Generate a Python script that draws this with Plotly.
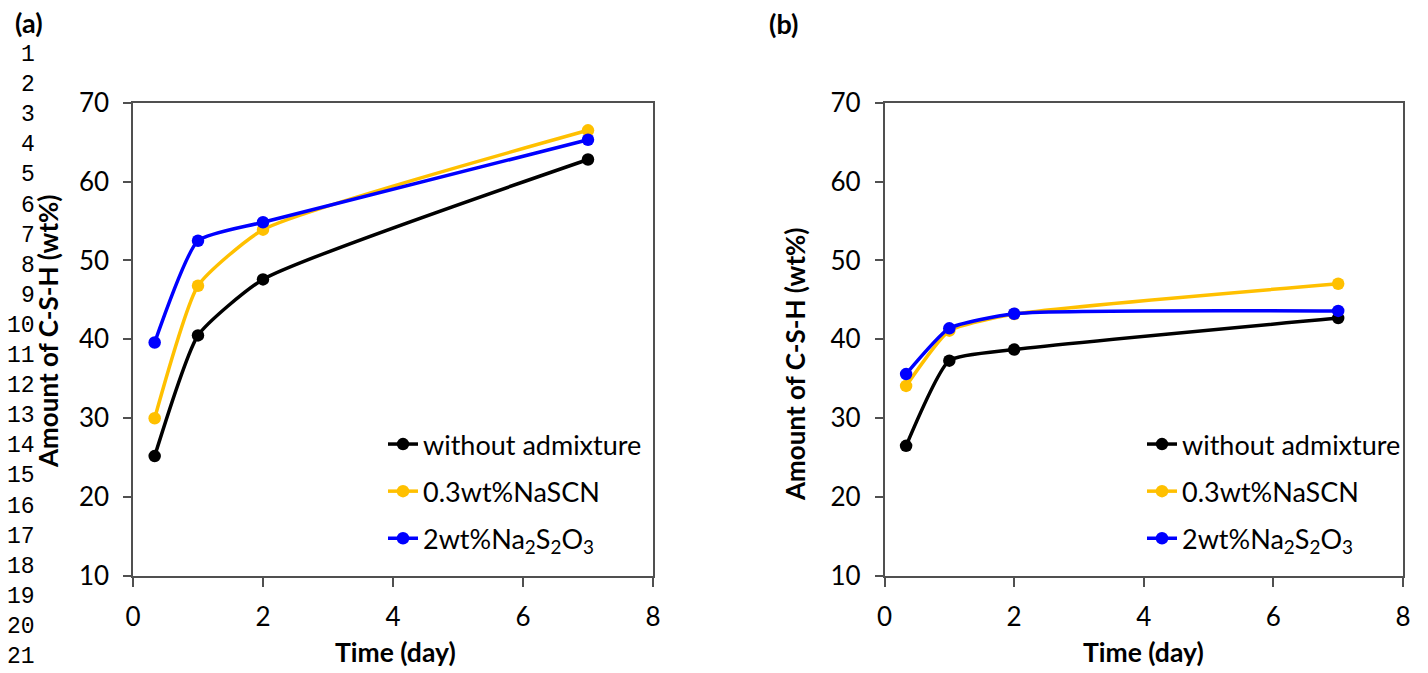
import plotly.graph_objects as go

W, H = 1428, 673

days = [1/3, 1, 2, 7]

series_names = ["without admixture", "0.3wt%NaSCN", "2wt%Na<sub>2</sub>S<sub>2</sub>O<sub>3</sub>"]
series_colors = ["#000000", "#FFC000", "#0000FF"]

a_without = [25.2, 40.5, 47.6, 62.8]
a_nascn = [30.0, 46.8, 53.9, 66.5]
a_na2s2o3 = [39.6, 52.5, 54.85, 65.3]

b_without = [26.5, 37.3, 38.7, 42.7]
b_nascn = [34.1, 41.1, 43.2, 47.05]
b_na2s2o3 = [35.6, 41.4, 43.25, 43.6]

x_ticks = [0, 2, 4, 6, 8]
y_ticks = [10, 20, 30, 40, 50, 60, 70]
line_numbers = [str(i) for i in range(1, 22)]

FONT = "Lato"
AXIS_COLOR = "#505050"

fig = go.Figure()

panels = [
    ("x", "y", "legend", [a_without, a_nascn, a_na2s2o3]),
    ("x2", "y2", "legend2", [b_without, b_nascn, b_na2s2o3]),
]
for xa, ya, lg, data in panels:
    for i, (name, col, vals) in enumerate(zip(series_names, series_colors, data)):
        fig.add_trace(go.Scatter(
            x=days, y=vals, name=name, xaxis=xa, yaxis=ya, legend=lg,
            legendgroup=f"{lg}_{i}",
            mode="lines+markers",
            line=dict(color=col, width=3.5, shape="spline", smoothing=0.5),
            marker=dict(color=col, size=12.5),
        ))

def px2x(p):
    return p / W

def px2y(p):
    return 1 - p / H

ax_common = dict(
    showline=True, linecolor=AXIS_COLOR, linewidth=1.5, mirror=True,
    ticks="outside", tickcolor=AXIS_COLOR, tickwidth=1.5,
    showgrid=False, zeroline=False, automargin=False,
    tickfont=dict(family=FONT, size=26, color="#000000"),
)
xax = dict(range=[0, 8], tickvals=x_ticks, ticklen=9, ticklabelstandoff=8, **ax_common)
yax = dict(range=[10, 70], tickvals=y_ticks, ticklen=8, ticklabelstandoff=9, **ax_common)

TOP, BOT = 102.7, 576
leg_common = dict(xanchor="left", yanchor="top", bgcolor="rgba(0,0,0,0)",
                  traceorder="grouped", tracegroupgap=9, itemwidth=30,
                  font=dict(family=FONT, size=27, color="#000000"))

fig.update_layout(
    width=W, height=H, autosize=False,
    margin=dict(l=0, r=0, t=0, b=0, pad=0, autoexpand=False),
    paper_bgcolor="white", plot_bgcolor="white",
    showlegend=True,
    xaxis=dict(domain=[px2x(133), px2x(653)], anchor="y", **xax),
    yaxis=dict(domain=[px2y(BOT), px2y(TOP)], anchor="x", **yax),
    xaxis2=dict(domain=[px2x(884.5), px2x(1403)], anchor="y2", **xax),
    yaxis2=dict(domain=[px2y(BOT), px2y(TOP)], anchor="x2", **yax),
    legend=dict(x=px2x(383), y=px2y(420), **leg_common),
    legend2=dict(x=px2x(1142), y=px2y(420), **leg_common),
)

annotations = [
    dict(text="<b>(a)</b>", x=px2x(29), y=px2y(23), size=27),
    dict(text="<b>(b)</b>", x=px2x(783), y=px2y(24), size=27),
    dict(text="<b>Time (day)</b>", x=px2x(395), y=px2y(652), size=26.5),
    dict(text="<b>Time (day)</b>", x=px2x(1143), y=px2y(652), size=26.5),
    dict(text="<b>Amount of C-S-H (wt%)</b>", x=px2x(48), y=px2y(331), size=26, textangle=-90),
    dict(text="<b>Amount of C-S-H (wt%)</b>", x=px2x(795), y=px2y(364), size=26, textangle=-90),
]
for a in annotations:
    sz = a.pop("size")
    a.update(xref="paper", yref="paper", showarrow=False, xanchor="center", yanchor="middle",
             font=dict(family=FONT, size=sz, color="#000000"))
    fig.add_annotation(**a)

for i, s in enumerate(line_numbers):
    fig.add_annotation(text=s, x=px2x(37), y=px2y(55 + i * 30.1), xref="paper", yref="paper",
                       showarrow=False, xanchor="right", yanchor="middle",
                       font=dict(family="Liberation Mono", size=23, color="#000000"))

fig.write_html("out.html")
